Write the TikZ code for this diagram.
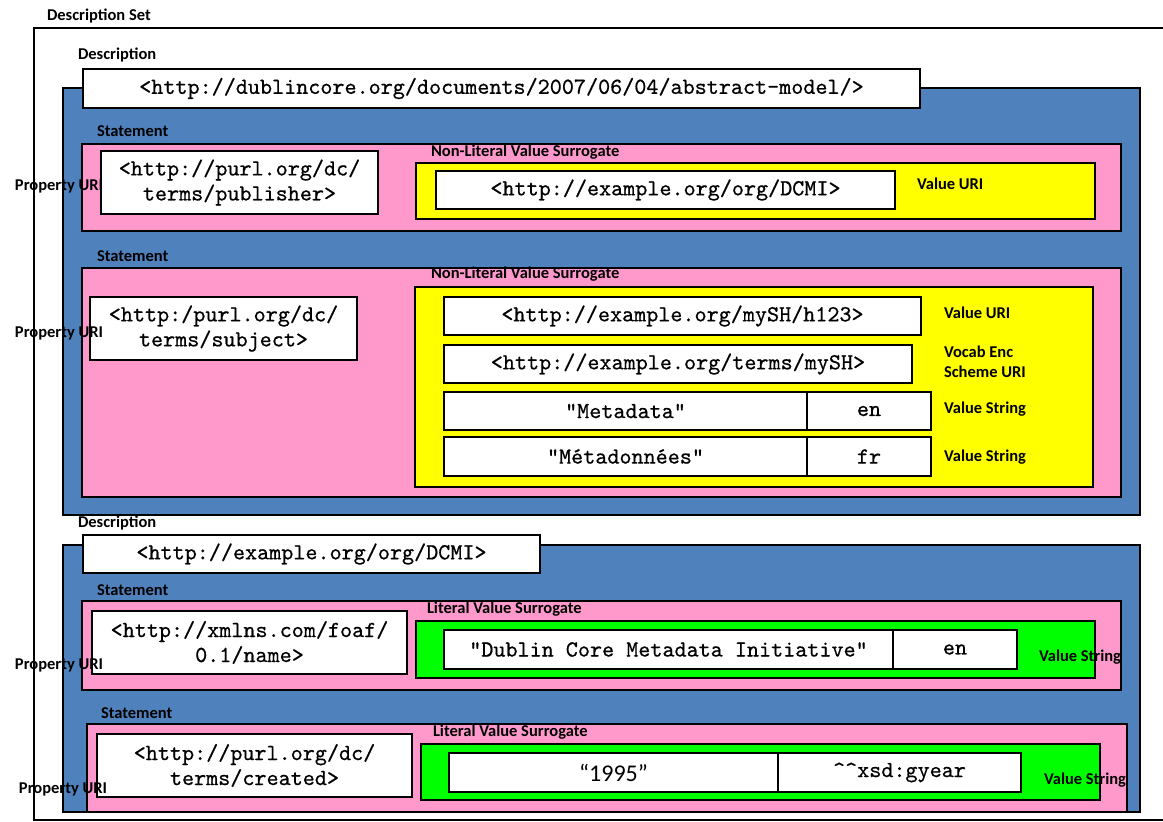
\documentclass[tikz,border=0pt]{standalone}
\usepackage{fontspec}
\setmainfont{Carlito}
\newfontfamily\urifam[FakeBold=0.6]{lmmono10-regular.otf}
\usetikzlibrary{fit}

\definecolor{descblue}{RGB}{79,129,189}
\definecolor{stmtpink}{RGB}{255,153,204}
\definecolor{nlvsyellow}{RGB}{255,255,0}
\definecolor{lvsgreen}{RGB}{0,255,0}
\newcommand{\lblf}{\fontsize{16.5}{20}\selectfont\bfseries}
\newcommand{\urif}{\fontsize{23}{25}\selectfont\urifam}

\begin{document}
\begin{tikzpicture}[x=1pt,y=-1pt,inner sep=0pt,line width=2pt]
  \tikzstyle{setbox}=[draw]
  \tikzstyle{descbox}=[draw,fill=descblue]
  \tikzstyle{stmtbox}=[draw,fill=stmtpink]
  \tikzstyle{nlvsbox}=[draw,fill=nlvsyellow]
  \tikzstyle{lvsbox}=[draw,fill=lvsgreen]
  \tikzstyle{uribox}=[draw,fill=white]
  \tikzstyle{uritext}=[font=\urif,align=center]
  \tikzstyle{lbl}=[font=\lblf,anchor=west,align=left]

  \useasboundingbox (0,0) rectangle (1163,822);

  % description set
  \node[setbox,fit={(34,28) (1180,820)}] (dset) {};
  \node[lbl] (dsetl) at (46,16) {Description Set};

  % first description
  \node[lbl] (d1l) at (77,55) {Description};
  \node[descbox,fit={(63,88) (1140,515)}] (d1) {};
  \node[uribox,fit={(83,69) (920,108)}] (d1uri) {};
  \node[uritext] (d1urit) at (d1uri)
    {<http://dublincore.org/documents/2007/06/04/abstract-model/>};

  % statement: publisher
  \node[lbl] (s1l) at (96,131) {Statement};
  \node[stmtbox,fit={(82,144) (1121,231)}] (s1) {};
  \node[uribox,fit={(101,151) (378,214)}] (s1prop) {};
  \node[uritext] (s1propt) at (s1prop) {<http://purl.org/dc/\\terms/publisher>};
  \node[lbl] (s1pl) at (14,186) {Property URI};
  \node[lbl] (s1vl) at (430,152) {Non-Literal Value Surrogate};
  \node[nlvsbox,fit={(416,163) (1095,219)}] (s1v) {};
  \node[uribox,fit={(436,171) (895,209)}] (s1vuri) {};
  \node[uritext] (s1vurit) at (s1vuri) {<http://example.org/org/DCMI>};
  \node[lbl] (s1vurl) at (916,184) {Value URI};

  % statement: subject
  \node[lbl] (s2l) at (96,256) {Statement};
  \node[stmtbox,fit={(82,268) (1121,497)}] (s2) {};
  \node[uribox,fit={(90,297) (357,360)}] (s2prop) {};
  \node[uritext] (s2propt) at (s2prop) {<http:/purl.org/dc/\\terms/subject>};
  \node[lbl] (s2pl) at (14,333) {Property URI};
  \node[lbl] (s2vl) at (430,274) {Non-Literal Value Surrogate};
  \node[nlvsbox,fit={(415,287) (1093,487)}] (s2v) {};
  \node[uribox,fit={(444,297) (921,335)}] (s2vuri) {};
  \node[uritext] (s2vurit) at (s2vuri) {<http://example.org/mySH/h123>};
  \node[uribox,fit={(444,345) (912,383)}] (s2ves) {};
  \node[uritext] (s2vest) at (s2ves) {<http://example.org/terms/mySH>};
  \node[uribox,fit={(444,392) (807,430)}] (s2str1) {};
  \node[uritext] (s2str1t) at (s2str1) {“Metadata”};
  \node[uribox,fit={(807,392) (931,430)}] (s2lang1) {};
  \node[uritext] (s2lang1t) at (s2lang1) {en};
  \node[uribox,fit={(444,437) (807,476)}] (s2str2) {};
  \node[uritext] (s2str2t) at (s2str2) {"Métadonnées"};
  \node[uribox,fit={(807,437) (931,476)}] (s2lang2) {};
  \node[uritext] (s2lang2t) at (s2lang2) {fr};
  \node[lbl] (s2vurl) at (943,313) {Value URI};
  \node[lbl] (s2vesl) at (943,362) {Vocab Enc\\Scheme URI};
  \node[lbl] (s2str1l) at (943,409) {Value String};
  \node[lbl] (s2str2l) at (943,457) {Value String};

  % second description
  \node[lbl] (d2l) at (77,523) {Description};
  \node[descbox,fit={(63,545) (1140,812)}] (d2) {};
  \node[uribox,fit={(83,535) (540,573)}] (d2uri) {};
  \node[uritext] (d2urit) at (d2uri) {<http://example.org/org/DCMI>};

  % statement: name
  \node[lbl] (s3l) at (96,590) {Statement};
  \node[stmtbox,fit={(82,601) (1121,690)}] (s3) {};
  \node[uribox,fit={(92,611) (407,674)}] (s3prop) {};
  \node[uritext] (s3propt) at (s3prop) {<http://xmlns.com/foaf/\\0.1/name>};
  \node[lbl] (s3vl) at (426,609) {Literal Value Surrogate};
  \node[lvsbox,fit={(416,621) (1095,678)}] (s3v) {};
  \node[uribox,fit={(444,630) (893,669)}] (s3str) {};
  \node[uritext] (s3strt) at (s3str) {“Dublin Core Metadata Initiative”};
  \node[uribox,fit={(893,630) (1017,669)}] (s3lang) {};
  \node[uritext] (s3langt) at (s3lang) {en};
  \node[lbl] (s3strl) at (1038,657) {Value String};
  \node[lbl] (s3pl) at (14,665) {Property URI};

  % statement: created
  \node[lbl] (s4l) at (100,713) {Statement};
  \node[stmtbox,fit={(87,724) (1127,812)}] (s4) {};
  \node[uribox,fit={(97,734) (412,797)}] (s4prop) {};
  \node[uritext] (s4propt) at (s4prop) {<http://purl.org/dc/\\terms/created>};
  \node[lbl] (s4vl) at (432,732) {Literal Value Surrogate};
  \node[lvsbox,fit={(421,744) (1100,800)}] (s4v) {};
  \node[uribox,fit={(449,753) (778,792)}] (s4str) {};
  \node[font=\fontsize{24}{26}\selectfont] (s4strt) at (s4str) {“1995”};
  \node[uribox,fit={(778,753) (1021,792)}] (s4type) {};
  \node[uritext] (s4typet) at (s4type) {\string^\string^xsd:gyear};
  \node[lbl] (s4strl) at (1043,780) {Value String};
  \node[lbl] (s4pl) at (18,789) {Property URI};
\end{tikzpicture}
\end{document}
